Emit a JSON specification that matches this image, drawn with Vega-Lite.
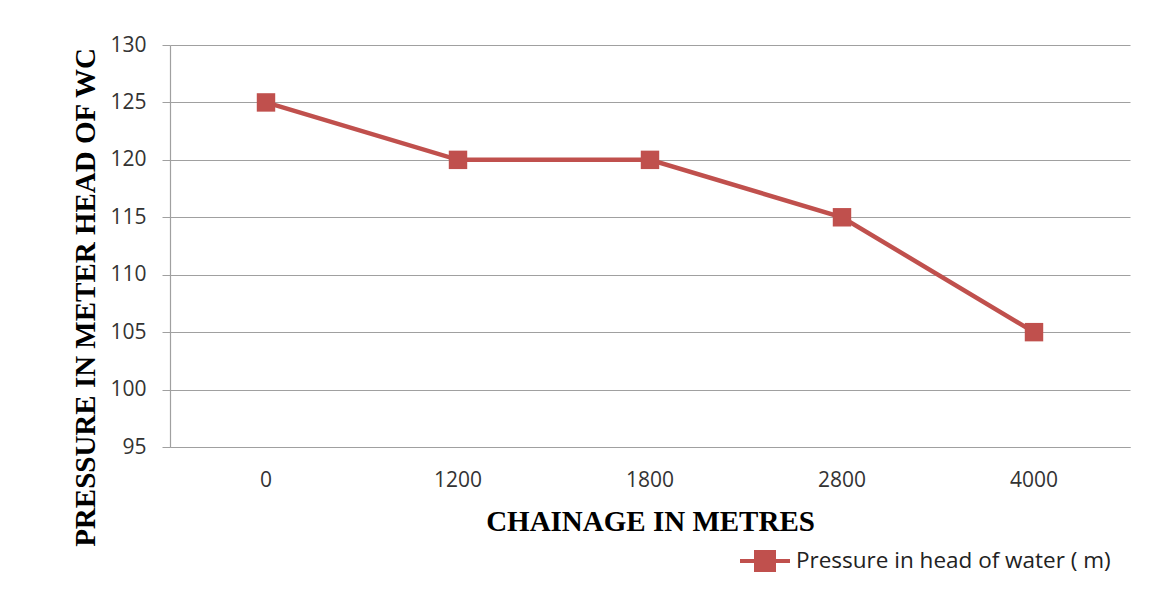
{
  "$schema": "https://vega.github.io/schema/vega-lite/v6.json",
  "autosize": "none",
  "width": 960,
  "height": 402,
  "padding": {"left": 170, "top": 45, "right": 27, "bottom": 144},
  "background": "white",
  "config": {"view": {"stroke": null}},
  "data": {"values": [
    {"chainage": "0", "pressure": 125, "series": "Pressure in head of water ( m)"},
    {"chainage": "1200", "pressure": 120, "series": "Pressure in head of water ( m)"},
    {"chainage": "1800", "pressure": 120, "series": "Pressure in head of water ( m)"},
    {"chainage": "2800", "pressure": 115, "series": "Pressure in head of water ( m)"},
    {"chainage": "4000", "pressure": 105, "series": "Pressure in head of water ( m)"}
  ]},
  "encoding": {
    "x": {
      "field": "chainage", "type": "ordinal", "sort": null,
      "scale": {"type": "band", "paddingInner": 0, "paddingOuter": 0},
      "axis": {
        "title": "CHAINAGE IN METRES",
        "titleFont": "Liberation Serif", "titleFontSize": 29, "titleFontWeight": "bold", "titleColor": "#000000",
        "titleY": 74, "titleBaseline": "middle",
        "labelAngle": 0, "labelFont": "Open Sans", "labelFontSize": 21, "labelColor": "#333333",
        "labelPadding": 22, "ticks": false, "domainColor": "#A0A0A0", "domainWidth": 1.2
      }
    },
    "y": {
      "field": "pressure", "type": "quantitative",
      "scale": {"domain": [95, 130], "zero": false, "nice": false},
      "axis": {
        "title": "PRESSURE IN METER HEAD OF WC",
        "titleFont": "Liberation Serif", "titleFontSize": 29, "titleFontWeight": "bold", "titleColor": "#000000",
        "titleX": -85, "titleY": 252, "titleAngle": -90, "titleBaseline": "middle", "titleAlign": "center",
        "values": [95, 100, 105, 110, 115, 120, 125, 130],
        "labelFont": "Open Sans", "labelFontSize": 21, "labelColor": "#333333", "labelPadding": 16,
        "tickSize": 8, "tickColor": "#A0A0A0", "domainColor": "#A0A0A0", "domainWidth": 1.2,
        "gridColor": "#A0A0A0", "gridWidth": 1.2
      }
    },
    "color": {
      "field": "series", "type": "nominal",
      "scale": {"range": ["#C0504D"]},
      "legend": {
        "title": null, "orient": "none", "legendX": 568, "legendY": 489,
        "symbolType": "M-1,0H1M-0.36,-0.36H0.36V0.36H-0.36Z",
        "symbolSize": 2500, "symbolStrokeWidth": 4, "symbolFillColor": "#C0504D", "symbolStrokeColor": "#C0504D",
        "labelFont": "Open Sans", "labelFontSize": 22.5, "labelColor": "#222222", "labelOffset": 4, "labelLimit": 500
      }
    }
  },
  "layer": [
    {"mark": {"type": "line", "strokeWidth": 4.5}},
    {"mark": {"type": "square", "size": 340, "opacity": 1, "filled": true}}
  ]
}
